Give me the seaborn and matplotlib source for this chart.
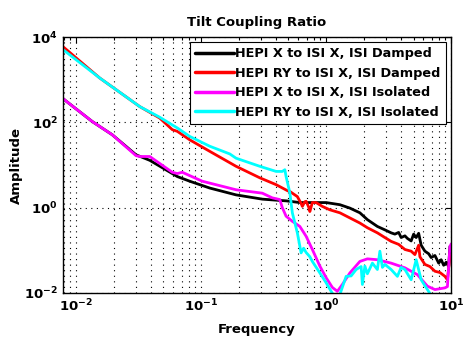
import numpy as np
import pandas as pd
import matplotlib
matplotlib.use("Agg")
import matplotlib.pyplot as plt
import seaborn as sns
from matplotlib.ticker import LogLocator, NullFormatter, FixedLocator

# values, stored as log10(frequency), log10(amplitude)
labels = ["HEPI X to ISI X, ISI Damped", "HEPI RY to ISI X, ISI Damped",
          "HEPI X to ISI X, ISI Isolated", "HEPI RY to ISI X, ISI Isolated"]
colors = ["#000000", "#ff0000", "#ff00ff", "#00ffff"]

black_lf = [-2.11, -1.87, -1.71, -1.52, -1.41, -1.23, -1.19, -1.09, -0.93, -0.72, -0.51,
            -0.37, -0.32, -0.21, -0.13, 0.0, 0.11, 0.19, 0.27, 0.33, 0.41, 0.47, 0.52,
            0.55, 0.58, 0.60, 0.63, 0.65, 0.68, 0.70, 0.72, 0.74, 0.76, 0.79, 0.82, 0.84,
            0.87, 0.90, 0.92, 0.94, 0.96, 0.98, 0.99, 1.0]
black_la = [2.57, 2.02, 1.71, 1.24, 1.11, 0.80, 0.73, 0.62, 0.46, 0.30, 0.20,
            0.17, 0.16, 0.12, 0.12, 0.12, 0.07, -0.01, -0.12, -0.28, -0.44, -0.52, -0.59,
            -0.62, -0.58, -0.70, -0.66, -0.72, -0.78, -0.62, -0.70, -0.60, -0.88, -1.02, -1.08, -1.17,
            -1.12, -1.30, -1.22, -1.35, -1.28, -1.38, -0.91, -0.90]

red_lf = [-2.11, -1.81, -1.49, -1.33, -1.23, -1.19, -1.09, -0.93, -0.72, -0.53, -0.40,
          -0.31, -0.29, -0.23, -0.20, -0.19, -0.17, -0.16, -0.14, -0.13, -0.11, -0.08,
          -0.03, 0.03, 0.11, 0.19, 0.27, 0.33, 0.41, 0.47, 0.52, 0.58, 0.63, 0.68, 0.71,
          0.74, 0.75, 0.79, 0.83, 0.87, 0.91, 0.95, 0.97, 0.99, 1.0]
red_la = [3.79, 3.04, 2.37, 2.10, 1.83, 1.79, 1.59, 1.32, 0.97, 0.70, 0.54,
          0.40, 0.38, 0.26, 0.10, 0.03, 0.14, 0.15, 0.02, -0.09, 0.12, 0.12,
          0.03, -0.05, -0.12, -0.24, -0.36, -0.47, -0.59, -0.70, -0.79, -0.86, -0.98, -1.02, -1.10,
          -0.88, -1.15, -1.33, -1.38, -1.49, -1.52, -1.61, -1.69, -1.14, -1.10]

mag_lf = [-2.11, -1.87, -1.71, -1.52, -1.49, -1.41, -1.23, -1.19, -1.15, -0.99, -0.72,
          -0.51, -0.43, -0.37, -0.35, -0.32, -0.27, -0.21, -0.16, -0.11, -0.05, 0.0,
          0.05, 0.09, 0.13, 0.19, 0.27, 0.33, 0.41, 0.52, 0.63, 0.73, 0.81, 0.87, 0.95,
          0.97, 0.99, 1.0]
mag_la = [2.57, 2.02, 1.71, 1.22, 1.20, 1.20, 0.83, 0.80, 0.83, 0.62, 0.42,
          0.34, 0.23, 0.19, 0.0, -0.20, -0.32, -0.44, -0.67, -0.98, -1.37, -1.64,
          -1.87, -1.96, -1.80, -1.53, -1.26, -1.20, -1.22, -1.30, -1.41, -1.57, -1.84, -1.92, -1.88,
          -1.85, -0.91, -0.85]

cyan_lf = [-2.11, -1.81, -1.49, -1.33, -1.23, -1.19, -1.09, -0.93, -0.77, -0.72, -0.53,
           -0.40, -0.35, -0.33, -0.32, -0.29, -0.27, -0.23, -0.20, -0.18, -0.16, -0.13,
           -0.11, -0.05, 0.0, 0.04, 0.07, 0.10, 0.12, 0.16, 0.20, 0.24, 0.28, 0.29, 0.31,
           0.33, 0.37, 0.41, 0.43, 0.45, 0.47, 0.52, 0.57, 0.60, 0.63, 0.68, 0.72, 0.76,
           0.81, 0.85, 1.0]
cyan_la = [3.72, 3.04, 2.37, 2.12, 1.94, 1.87, 1.67, 1.44, 1.26, 1.16, 0.97,
           0.85, 0.85, 0.89, 0.73, 0.35, -0.12, -0.59, -1.06, -0.95, -1.05, -1.15,
           -1.26, -1.53, -1.76, -1.96, -2.10, -2.10, -1.95, -1.61, -1.60, -1.45, -1.38, -1.80, -1.37,
           -1.55, -1.30, -1.45, -1.02, -1.40, -1.33, -1.45, -1.61, -1.40, -1.45, -1.69, -1.22, -1.69,
           -1.92, -2.10, -2.30]

series = [(black_lf, black_la), (red_lf, red_la), (mag_lf, mag_la), (cyan_lf, cyan_la)]
rows = []
for lab, (lf, la) in zip(labels, series):
    for f, a in zip(lf, la):
        rows.append({"freq": 10 ** f, "amp": 10 ** a, "trace": lab})
df = pd.DataFrame(rows)

sns.set_style("white")
plt.rcParams["font.family"] = ["DejaVu Sans"]
plt.rcParams["font.weight"] = "bold"
plt.rcParams["mathtext.default"] = "bf"
plt.rcParams["text.color"] = "black"
plt.rcParams["xtick.color"] = "black"
plt.rcParams["ytick.color"] = "black"
plt.rcParams["axes.labelcolor"] = "black"

fig = plt.figure(figsize=(4.69, 3.53), dpi=100)
ax = fig.add_axes([0.134, 0.170, 0.828, 0.725])
sns.lineplot(data=df, x="freq", y="amp", hue="trace", hue_order=labels,
             palette=colors, estimator=None, sort=True, linewidth=2, ax=ax)
ax.set_xscale("log")
ax.set_yscale("log")
ax.set_xlim(10 ** -2.105, 10)
ax.set_ylim(1e-2, 1e4)

ax.xaxis.set_major_locator(FixedLocator([1e-2, 1e-1, 1e0, 1e1]))
ax.set_xticklabels([r"$10^{-2}$", r"$10^{-1}$", r"$10^{0}$", r"$10^{1}$"])
ax.xaxis.set_minor_locator(LogLocator(base=10, subs=np.arange(2, 10), numticks=20))
ax.xaxis.set_minor_formatter(NullFormatter())
ax.yaxis.set_major_locator(FixedLocator([1e-2, 1e0, 1e2, 1e4]))
ax.set_yticklabels([r"$10^{-2}$", r"$10^{0}$", r"$10^{2}$", r"$10^{4}$"])
ax.yaxis.set_minor_locator(FixedLocator([]))

ax.grid(True, which="major", color="black", linestyle=(0, (1, 4)), linewidth=0.8)
ax.grid(True, which="minor", axis="x", color="black", linestyle=(0, (1, 4)), linewidth=0.8)
ax.tick_params(which="both", direction="in", top=True, right=True, labelsize=9.5)
ax.tick_params(which="major", length=4, width=0.8)
ax.tick_params(which="minor", length=2, width=0.8)
for s in ax.spines.values():
    s.set_color("black")
    s.set_linewidth(1)

ax.set_title("Tilt Coupling Ratio", fontsize=9.5, fontweight="bold", pad=8)
ax.set_xlabel("Frequency", fontsize=9.5, fontweight="bold", labelpad=6)
ax.set_ylabel("Amplitude", fontsize=9.5, fontweight="bold", labelpad=1)

leg = ax.legend(loc="upper right", fontsize=9.3, frameon=True, fancybox=False,
                handlelength=3.0, handletextpad=0.15, borderpad=0.4,
                labelspacing=0.5, borderaxespad=0.4)
leg.get_frame().set_edgecolor("black")
leg.get_frame().set_linewidth(0.8)
leg.get_frame().set_alpha(1)
for line in leg.get_lines():
    line.set_linewidth(2.5)

fig.savefig("out.png", dpi=100)
